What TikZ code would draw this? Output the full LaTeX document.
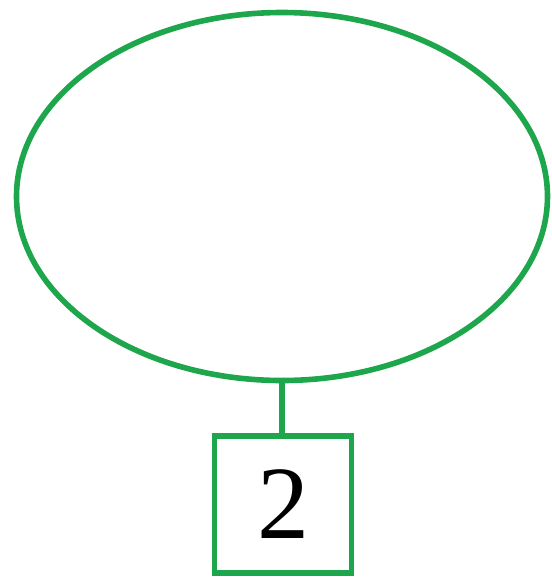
\documentclass[tikz,border=0pt]{standalone}
\usepackage{fontspec}
\setmainfont{Liberation Serif}
\usepackage{xcolor}
\usetikzlibrary{shapes.geometric}
\definecolor{tagGreen}{RGB}{30,166,76}

\begin{document}
\begin{tikzpicture}[x=0.5pt,y=-0.5pt,line width=2.8pt]
  \useasboundingbox (0,0) rectangle (552,580);
  \node[draw=tagGreen, ellipse, inner sep=0pt, minimum width=265.5pt, minimum height=184pt]
    (ring) at (282,196.5) {};
  \node[draw=tagGreen, rectangle, inner sep=0pt, minimum size=68.5pt,
    font=\fontsize{52}{52}\selectfont] (tag) at (283,504.5) {2};
  \draw[tagGreen] (ring.south) -- (ring.south |- tag.north);
\end{tikzpicture}
\end{document}
